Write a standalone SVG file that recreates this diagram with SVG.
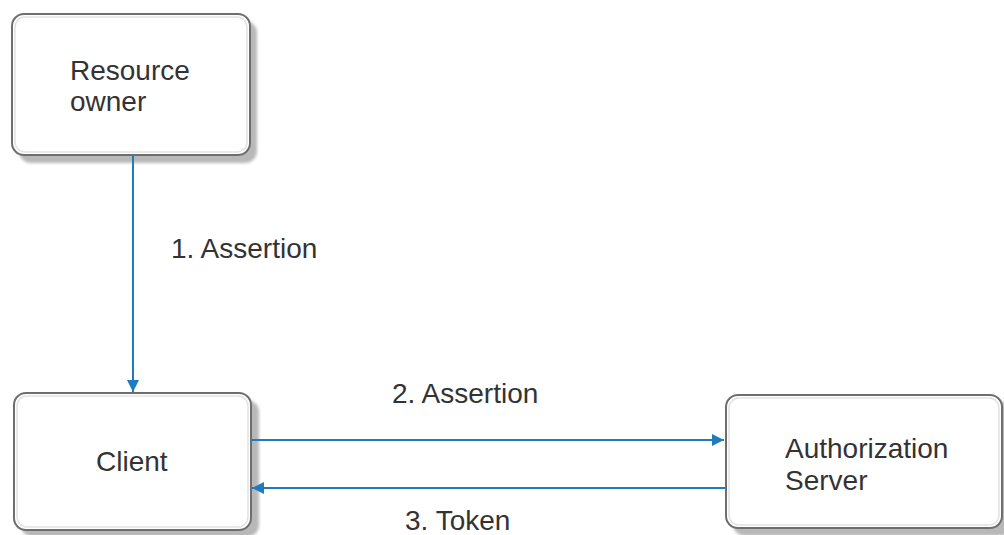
<svg xmlns="http://www.w3.org/2000/svg" width="1004" height="535" viewBox="0 0 1004 535">
<defs>
<style>
.box{fill:#fff;stroke:#6e6e6e;stroke-width:2}
.inner{fill:none;stroke:#e2e2e2;stroke-width:1.5}
.shadow{fill:#b8b8b8}
.t{font-family:"Liberation Sans",Arial,sans-serif;font-size:28px;fill:#333}
.c{stroke:#1f7bbd;stroke-width:2;fill:none}
</style>
<marker id="ah" viewBox="0 0 10 10" refX="10" refY="5" markerWidth="12" markerHeight="12" markerUnits="userSpaceOnUse" orient="auto">
<path d="M0,0 L10,5 L0,10 z" fill="#1f7bbd"/>
</marker>
<filter id="blur" x="-10%" y="-10%" width="120%" height="120%"><feGaussianBlur stdDeviation="1.5"/></filter>
</defs>
<rect width="1004" height="535" fill="#fff"/>
<g id="resource-owner">
<rect class="shadow" x="19" y="21" width="238" height="142" rx="12" filter="url(#blur)"/>
<rect class="box" x="12" y="14" width="238" height="141" rx="12"/>
<rect class="inner" x="15" y="17" width="232" height="135" rx="10"/>
<text class="t" x="70" y="80">Resource</text>
<text class="t" x="70" y="111">owner</text>
</g>
<g id="client">
<rect class="shadow" x="21" y="400" width="238" height="137" rx="12" filter="url(#blur)"/>
<rect class="box" x="14" y="393" width="237" height="137" rx="12"/>
<rect class="inner" x="17" y="396" width="231" height="131" rx="10"/>
<text class="t" x="96" y="471">Client</text>
</g>
<g id="authorization-server">
<rect class="shadow" x="733" y="402" width="280" height="134" rx="12" filter="url(#blur)"/>
<rect class="box" x="726" y="395" width="276" height="133" rx="12"/>
<rect class="inner" x="729" y="398" width="270" height="127" rx="10"/>
<text class="t" x="785" y="458">Authorization</text>
<text class="t" x="785" y="490">Server</text>
</g>
<g id="connectors">
<line class="c" x1="133" y1="156" x2="133" y2="392" marker-end="url(#ah)"/>
<line class="c" x1="252" y1="440" x2="724" y2="440" marker-end="url(#ah)"/>
<line class="c" x1="726" y1="488" x2="252" y2="488" marker-end="url(#ah)"/>
<text class="t" x="171" y="258">1. Assertion</text>
<text class="t" x="392" y="403">2. Assertion</text>
<text class="t" x="405" y="530">3. Token</text>
</g>
</svg>
